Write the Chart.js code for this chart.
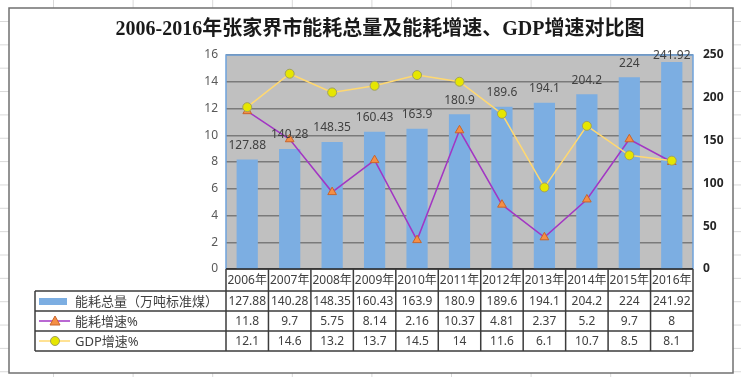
<!DOCTYPE html>
<html>
<head>
<meta charset="utf-8">
<script src="https://cdn.jsdelivr.net/npm/chart.js@4"></script>
<style>
  html, body { margin: 0; padding: 0; background: #fff; }
  #chart { display: block; }
</style>
</head>
<body>
<canvas id="chart" width="741" height="377"></canvas>
<script>
const years = ['2006年', '2007年', '2008年', '2009年', '2010年', '2011年', '2012年', '2013年', '2014年', '2015年', '2016年'];
const energyTotal = [127.88, 140.28, 148.35, 160.43, 163.9, 180.9, 189.6, 194.1, 204.2, 224, 241.92];
const energyGrowth = [11.8, 9.7, 5.75, 8.14, 2.16, 10.37, 4.81, 2.37, 5.2, 9.7, 8];
const gdpGrowth = [12.1, 14.6, 13.2, 13.7, 14.5, 14, 11.6, 6.1, 10.7, 8.5, 8.1];

const titleText = '2006-2016年张家界市能耗总量及能耗增速、GDP增速对比图';
const seriesNames = ['能耗总量（万吨标准煤）', '能耗增速%', 'GDP增速%'];

const BAR_COLOR = '#7caee2';
const PURPLE = '#a236c4';
const TRI_FILL = '#f58f45';
const TRI_EDGE = '#c8652c';
const GOLD = '#ffd870';
const DOT_FILL = '#e6e600';
const DOT_EDGE = '#a0a060';
const TEXT = '#404040';
const FONT = "'Noto Sans', 'Noto Sans CJK SC', sans-serif";

// table row edges (y) under the plot
const rowTop = [269, 291, 311, 331, 351];
const tableLeft = 35;

function fmt(v) {
    return String(v);
}

const sheetPlugin = {
    id: 'sheet',
    beforeDraw(chart) {
        const { ctx, width, height, chartArea: a } = chart;
        ctx.save();
        ctx.fillStyle = '#fff';
        ctx.fillRect(0, 0, width, height);
        // faint spreadsheet cells behind the chart object
        ctx.strokeStyle = '#d9d9d9';
        ctx.lineWidth = 1;
        for (let x = 53.5; x < width; x += 79.6) {
            ctx.beginPath(); ctx.moveTo(x, 0); ctx.lineTo(x, height); ctx.stroke();
        }
        for (let y = 21.5; y < height; y += 23.35) {
            ctx.beginPath(); ctx.moveTo(0, y); ctx.lineTo(width, y); ctx.stroke();
        }
        ctx.fillStyle = '#fff';
        ctx.fillRect(9, 8, 724, 365);
        ctx.strokeStyle = '#707070';
        ctx.lineWidth = 1.5;
        ctx.strokeRect(9, 8, 724, 365);
        // plot background
        ctx.fillStyle = '#c0c0c0';
        ctx.fillRect(a.left, a.top, a.right - a.left, a.bottom - a.top);
        ctx.restore();
    },
    beforeDatasetsDraw(chart) {
        const { ctx, chartArea: a } = chart;
        ctx.save();
        ctx.strokeStyle = '#6fa3dc';
        ctx.lineWidth = 1.5;
        ctx.beginPath();
        ctx.moveTo(a.left, a.bottom);
        ctx.lineTo(a.left, a.top);
        ctx.lineTo(a.right, a.top);
        ctx.lineTo(a.right, a.bottom);
        ctx.stroke();
        ctx.restore();
    },
    afterDatasetsDraw(chart) {
        const { ctx } = chart;
        const bars = chart.getDatasetMeta(0).data;
        ctx.save();
        ctx.font = '12px ' + FONT;
        ctx.fillStyle = TEXT;
        ctx.textAlign = 'center';
        ctx.textBaseline = 'middle';
        bars.forEach((bar, i) => {
            ctx.fillText(fmt(energyTotal[i]), bar.x, Math.max(bar.y - 14, 56));
        });
        ctx.restore();
    },
    afterDraw(chart) {
        const { ctx, chartArea: a } = chart;
        const xScale = chart.scales.x;
        const colW = (a.right - a.left) / years.length;
        ctx.save();

        // title
        ctx.font = "bold 20px 'Liberation Serif', 'Noto Sans CJK SC', serif";
        ctx.fillStyle = '#1a1a1a';
        ctx.textAlign = 'center';
        ctx.textBaseline = 'middle';
        ctx.fillText(titleText, 380, 30);

        // x axis line
        ctx.strokeStyle = '#222';
        ctx.lineWidth = 1.5;
        ctx.beginPath();
        ctx.moveTo(a.left, a.bottom);
        ctx.lineTo(a.right, a.bottom);
        ctx.stroke();

        // table grid
        ctx.strokeStyle = '#3c3c3c';
        ctx.lineWidth = 1.5;
        ctx.beginPath();
        for (let r = 1; r < rowTop.length; r++) {
            ctx.moveTo(tableLeft, rowTop[r]);
            ctx.lineTo(a.right, rowTop[r]);
        }
        ctx.moveTo(tableLeft, rowTop[1]);
        ctx.lineTo(tableLeft, rowTop[4]);
        for (let i = 0; i <= years.length; i++) {
            const x = a.left + i * colW;
            ctx.moveTo(x, rowTop[0]);
            ctx.lineTo(x, rowTop[4]);
        }
        ctx.stroke();

        // cell text
        ctx.font = '12px ' + FONT;
        ctx.fillStyle = TEXT;
        ctx.textAlign = 'center';
        ctx.textBaseline = 'middle';
        const rows = [years, energyTotal, energyGrowth, gdpGrowth];
        rows.forEach((vals, r) => {
            const y = (rowTop[r] + rowTop[r + 1]) / 2 + 1;
            vals.forEach((v, i) => {
                ctx.fillText(fmt(v), xScale.getPixelForValue(i), y);
            });
        });

        // legend keys in the first column
        const y1 = (rowTop[1] + rowTop[2]) / 2;
        const y2 = (rowTop[2] + rowTop[3]) / 2;
        const y3 = (rowTop[3] + rowTop[4]) / 2;
        ctx.fillStyle = BAR_COLOR;
        ctx.fillRect(39, y1 - 3, 28, 7);

        ctx.lineWidth = 1.5;
        ctx.strokeStyle = PURPLE;
        ctx.beginPath(); ctx.moveTo(39, y2); ctx.lineTo(70, y2); ctx.stroke();
        ctx.fillStyle = TRI_FILL;
        ctx.strokeStyle = TRI_EDGE;
        ctx.lineWidth = 1;
        ctx.beginPath();
        ctx.moveTo(55, y2 - 5); ctx.lineTo(60, y2 + 4); ctx.lineTo(50, y2 + 4); ctx.closePath();
        ctx.fill(); ctx.stroke();

        ctx.lineWidth = 1.5;
        ctx.strokeStyle = GOLD;
        ctx.beginPath(); ctx.moveTo(39, y3); ctx.lineTo(70, y3); ctx.stroke();
        ctx.fillStyle = DOT_FILL;
        ctx.strokeStyle = DOT_EDGE;
        ctx.lineWidth = 1;
        ctx.beginPath(); ctx.arc(55, y3, 4.5, 0, Math.PI * 2); ctx.fill(); ctx.stroke();

        ctx.font = '13px ' + FONT;
        ctx.fillStyle = TEXT;
        ctx.textAlign = 'left';
        ctx.fillText(seriesNames[0], 75, y1 + 1);
        ctx.fillText(seriesNames[1], 75, y2 + 1);
        ctx.fillText(seriesNames[2], 75, y3 + 1);

        ctx.restore();
    }
};

function initChart() {
    const ctx = document.getElementById('chart');
    return new Chart(ctx, {
        data: {
            labels: years,
            datasets: [{
                type: 'bar',
                label: seriesNames[0],
                data: energyTotal,
                yAxisID: 'y1',
                backgroundColor: BAR_COLOR,
                barPercentage: 0.5,
                categoryPercentage: 1,
                order: 3
            }, {
                type: 'line',
                label: seriesNames[1],
                data: energyGrowth,
                yAxisID: 'y',
                borderColor: PURPLE,
                borderWidth: 1.5,
                pointStyle: 'triangle',
                pointRadius: 5,
                pointBackgroundColor: TRI_FILL,
                pointBorderColor: TRI_EDGE,
                pointBorderWidth: 1,
                tension: 0,
                order: 2
            }, {
                type: 'line',
                label: seriesNames[2],
                data: gdpGrowth,
                yAxisID: 'y',
                borderColor: GOLD,
                borderWidth: 1.5,
                pointStyle: 'circle',
                pointRadius: 4.5,
                pointBackgroundColor: DOT_FILL,
                pointBorderColor: DOT_EDGE,
                pointBorderWidth: 1,
                tension: 0,
                order: 1
            }]
        },
        options: {
            responsive: false,
            devicePixelRatio: 1,
            animation: false,
            layout: { padding: { left: 186, right: 8, top: 55, bottom: 108 } },
            plugins: { legend: { display: false }, tooltip: { enabled: false }, title: { display: false } },
            scales: {
                x: { type: 'category', display: false, offset: true },
                y: {
                    position: 'left',
                    min: 0, max: 16,
                    afterFit: s => { s.width = 40; },
                    ticks: { stepSize: 2, padding: 8, color: '#595959', font: { size: 12, family: FONT } },
                    grid: { color: '#7a7a7a', lineWidth: 1.5, drawTicks: false },
                    border: { display: false }
                },
                y1: {
                    position: 'right',
                    min: 0, max: 250,
                    afterFit: s => { s.width = 40; },
                    ticks: { stepSize: 50, padding: 10, color: '#262626', font: { size: 12, weight: 'bold', family: FONT } },
                    grid: { display: false, drawTicks: false },
                    border: { display: false }
                }
            }
        },
        plugins: [sheetPlugin]
    });
}

initChart();
</script>
</body>
</html>
